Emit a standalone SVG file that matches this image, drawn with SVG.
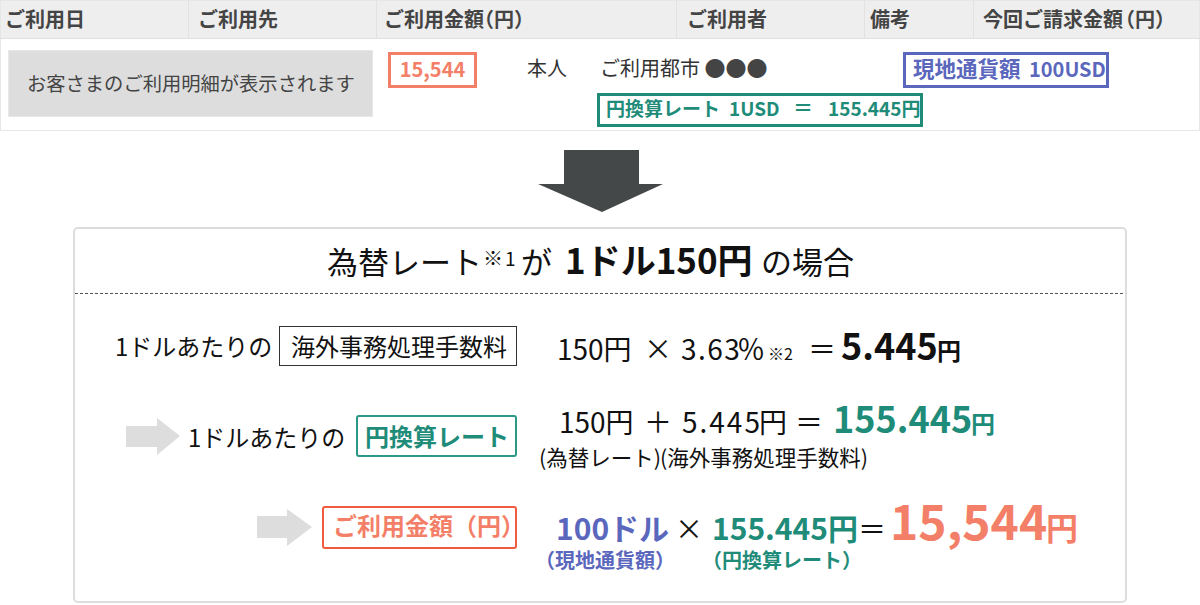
<svg xmlns="http://www.w3.org/2000/svg" width="1200" height="605" viewBox="0 0 1200 605">
<defs>
<style>
text{font-family:"Noto Sans CJK JP","Noto Sans",sans-serif;}
.hd{font-size:20px;font-weight:700;fill:#444;}
.bd{font-size:20px;fill:#333;}
.b{font-weight:700;}
.blk{fill:#111;}
.or{fill:#f47f68;}
.gr{fill:#1f8c7a;}
.bl{fill:#5a67bd;}
.garrow{fill:#dddddd;}
</style>
</defs>
<rect width="1200" height="605" fill="#ffffff"/>

<g id="table">
<rect x="0.5" y="0.5" width="1199" height="130" fill="#ffffff" stroke="#e6e6e6" stroke-width="1"/>
<rect x="1" y="1" width="1198" height="37" fill="#eeeeee"/>
<line x1="0" y1="38.5" x2="1200" y2="38.5" stroke="#e0e0e0"/>
<g stroke="#e2e2e2" stroke-width="1">
<line x1="188.5" y1="1" x2="188.5" y2="38"/>
<line x1="376.5" y1="1" x2="376.5" y2="38"/>
<line x1="676.5" y1="1" x2="676.5" y2="38"/>
<line x1="864.5" y1="1" x2="864.5" y2="38"/>
<line x1="973.5" y1="1" x2="973.5" y2="38"/>
</g>
<text class="hd" x="5" y="27">ご利用日</text>
<text class="hd" x="198" y="27">ご利用先</text>
<text class="hd" y="27"><tspan x="384">ご利用金額</tspan><tspan x="474">（円）</tspan></text>
<text class="hd" x="687" y="27">ご利用者</text>
<text class="hd" x="870" y="27">備考</text>
<text class="hd" y="27"><tspan x="983">今回ご請求金額</tspan><tspan x="1115">（円）</tspan></text>
</g>

<g id="placeholder">
<rect x="8.5" y="50.5" width="364" height="66" fill="#dddddd" stroke="#e8e8e8"/>
<text x="27" y="91" style="font-size:19.3px;fill:#444">お客さまのご利用明細が表示されます</text>
</g>

<g id="amount-cell">
<rect x="389.5" y="53.5" width="86" height="33" fill="#ffffff" stroke="#f47f68" stroke-width="3"/>
<text class="b or" x="432.5" y="77" text-anchor="middle" style="font-size:20px">15,544</text>
</g>

<g id="user-cell">
<text class="bd" x="527" y="76">本人</text>
<text class="bd" x="600" y="76">ご利用都市 <tspan fill="#444" style="font-size:21px">●●●</tspan></text>
</g>

<g id="rate-cell">
<rect x="598.5" y="94.5" width="323" height="31" fill="#ffffff" stroke="#1f8c7a" stroke-width="3"/>
<text class="b gr" y="116" style="font-size:19px"><tspan x="606">円換算レート</tspan><tspan x="729">1USD</tspan><tspan x="793" style="font-size:20px">＝</tspan><tspan x="828">155.445円</tspan></text>
</g>

<g id="local-cell">
<rect x="904.5" y="53.5" width="203" height="33" fill="#ffffff" stroke="#5a67bd" stroke-width="3"/>
<text class="b bl" y="77" style="font-size:20px"><tspan x="913" style="font-size:21.5px">現地通貨額</tspan><tspan x="1029">100USD</tspan></text>
</g>

<g id="down-arrow">
<polygon points="564,150 639,150 639,184 663,184 602,212 538,184 564,184" fill="#454848"/>
</g>

<g id="panel">
<rect x="74" y="228" width="1052" height="374" rx="4" fill="#ffffff" stroke="#dddddd" stroke-width="2"/>
<line x1="75" y1="293.5" x2="1125" y2="293.5" stroke="#555" stroke-width="1" stroke-dasharray="3,2"/>
<text class="blk" y="274" style="font-size:31px"><tspan x="327">為替レート</tspan><tspan x="483" y="266" style="font-size:20px">※</tspan><tspan x="505" y="266" style="font-size:19px">1</tspan><tspan x="521" y="274">が</tspan><tspan x="565" class="b" style="font-size:35px">1ドル150円</tspan><tspan x="761">の場合</tspan></text>
</g>

<g id="row1">
<text class="blk" x="115" y="356" style="font-size:24px">1ドルあたりの</text>
<rect x="279.5" y="326.5" width="237" height="39" fill="#ffffff" stroke="#333" stroke-width="1"/>
<text class="blk" x="291" y="356" style="font-size:24px">海外事務処理手数料</text>
<text class="blk" y="360" style="font-size:28px"><tspan x="557">150円</tspan><tspan x="644">×</tspan><tspan x="681" letter-spacing="1.5">3.63</tspan><tspan x="737">％</tspan><tspan x="768" style="font-size:16px">※2</tspan><tspan x="808">＝</tspan><tspan x="841" class="b" style="font-size:36px">5.445</tspan><tspan x="937" class="b" style="font-size:24px">円</tspan></text>
</g>

<g id="row2">
<polygon class="garrow" points="126,426 157,426 157,418 180,436 157,455 157,447 126,447"/>
<text class="blk" x="188" y="447" style="font-size:24px">1ドルあたりの</text>
<rect x="357" y="416" width="159" height="40" rx="2" fill="#ffffff" stroke="#2a9a86" stroke-width="2"/>
<text class="b gr" x="365" y="446" style="font-size:24px">円換算レート</text>
<text class="blk" y="433" style="font-size:28px"><tspan x="559">150円</tspan><tspan x="644">＋</tspan><tspan x="682" letter-spacing="2">5.445</tspan><tspan x="759">円</tspan><tspan x="795">＝</tspan><tspan x="833" class="b gr" style="font-size:36px">155.445</tspan><tspan x="971" class="b gr" style="font-size:24px">円</tspan></text>
<text class="blk" y="466" style="font-size:21.5px"><tspan x="539">(為替レート)</tspan><tspan x="660">(海外事務処理手数料)</tspan></text>
</g>

<g id="row3">
<polygon class="garrow" points="257,516 287,516 287,509 312,527 287,546 287,538 257,538"/>
<rect x="323" y="507" width="193" height="41" rx="2" fill="#ffffff" stroke="#f05b3f" stroke-width="2"/>
<text class="b or" x="333" y="535" style="font-size:24px">ご利用金額（円）</text>
<text class="b bl" x="556" y="540" style="font-size:30px">100ドル</text>
<text class="b bl" x="535" y="568" style="font-size:20px">（現地通貨額）</text>
<text class="blk" x="675" y="540" style="font-size:28px">×</text>
<text class="b gr" x="712" y="540" style="font-size:30px">155.445円</text>
<text class="b gr" x="702" y="568" style="font-size:20px">（円換算レート）</text>
<text class="blk" x="858" y="540" style="font-size:28px">＝</text>
<text class="b or" x="890" y="540" style="font-size:48px">15,544</text>
<text class="b or" x="1046" y="540" style="font-size:32px">円</text>
</g>
</svg>
